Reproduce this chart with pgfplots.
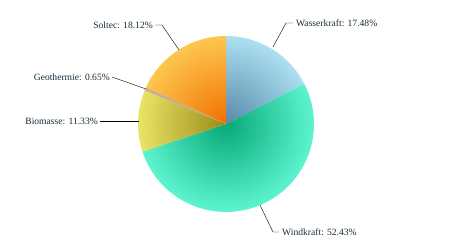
\documentclass[border=0pt]{standalone}
\usepackage{pgfplots}
\pgfplotsset{compat=1.18}
\usepackage{fontspec}
\setmainfont{Liberation Serif}
\definecolor{txt}{RGB}{24,44,56}
\definecolor{waI}{RGB}{88,136,168}\definecolor{waO}{RGB}{184,236,252}
\definecolor{wiI}{RGB}{8,168,120}\definecolor{wiO}{RGB}{104,255,220}
\definecolor{biI}{RGB}{154,138,24}\definecolor{biO}{RGB}{244,240,112}
\definecolor{geI}{RGB}{190,160,130}\definecolor{geO}{RGB}{205,180,150}
\definecolor{soI}{RGB}{240,112,0}\definecolor{soO}{RGB}{255,210,90}
% values (percent)
\def\vWa{17.48}\def\vWi{52.43}\def\vBi{11.33}\def\vGe{0.65}\def\vSo{18.12}
\pgfmathsetmacro\aA{90}
\pgfmathsetmacro\aB{\aA-3.6*\vWa}
\pgfmathsetmacro\aC{\aB-3.6*\vWi}
\pgfmathsetmacro\aD{\aC-3.6*\vBi}
\pgfmathsetmacro\aE{\aD-3.6*\vGe}
\pgfmathsetmacro\aF{\aE-3.6*\vSo}
\newcommand\slice[4]{%
  \begin{scope}
  \clip (axis cs:226,126) -- ++(#1:88pt) arc[start angle=#1, end angle=#2, radius=88pt] -- cycle;
  \shade[inner color=#3, outer color=#4] (axis cs:226,126) circle[radius=100pt];
  \end{scope}}
\begin{document}
\begin{tikzpicture}
\begin{axis}[at={(0,0)},anchor=origin,scale only axis,width=450pt,height=250pt,
  xmin=0,xmax=450,ymin=0,ymax=250,hide axis,clip=false]
\path (axis cs:0,0) rectangle (axis cs:450,250);
\slice{\aA}{\aB}{waI}{waO}
\slice{\aB}{\aC}{wiI}{wiO}
\slice{\aC}{\aD}{biI}{biO}
\slice{\aD}{\aE}{geI}{geO}
\slice{\aE}{\aF}{soI}{soO}
\begin{scope}[font=\fontsize{9.6}{11}\selectfont, text=txt]
\draw[black] (axis cs:273,203) -- (axis cs:286,227) -- (axis cs:293,227);
\node[anchor=west,inner sep=1pt] at (axis cs:295,227) {Wasserkraft: \vWa\%};
\draw[black] (axis cs:260,45) -- (axis cs:273,18) -- (axis cs:279,18);
\node[anchor=west,inner sep=1pt] at (axis cs:281,18) {Windkraft: \vWi\%};
\draw[black] (axis cs:139,129) -- (axis cs:100,129);
\node[anchor=east,inner sep=1pt] at (axis cs:99,129) {Biomasse: \vBi\%};
\draw[black] (axis cs:146,161) -- (axis cs:112,173);
\node[anchor=east,inner sep=1pt] at (axis cs:111,173) {Geothermie: \vGe\%};
\draw[black] (axis cs:179,200) -- (axis cs:162,225) -- (axis cs:155,225);
\node[anchor=east,inner sep=1pt] at (axis cs:154,225) {Soltec: \vSo\%};
\end{scope}
\end{axis}
\end{tikzpicture}
\end{document}
